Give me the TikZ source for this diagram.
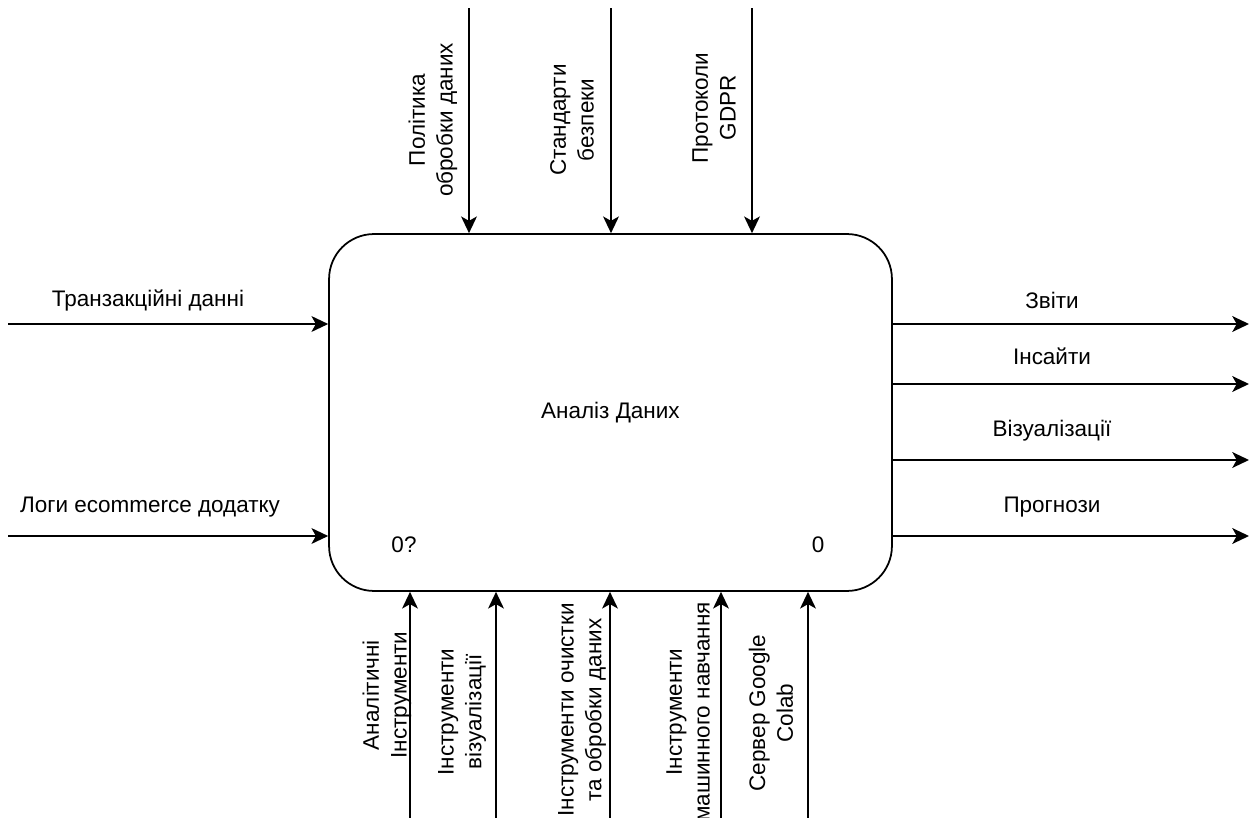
\documentclass[tikz,border=0pt]{standalone}
\usepackage{fontspec}
\setmainfont{Liberation Sans}
\usetikzlibrary{positioning,arrows.meta,calc}
\tikzstyle{flow}=[draw,line width=1pt,-{Stealth[length=9.5pt,width=9pt,inset=2.5pt]}]
\tikzstyle{lbl}=[font=\fontsize{12.8}{15.8}\selectfont,align=center,inner sep=0pt]
\tikzstyle{vlbl}=[lbl,rotate=90]

\begin{document}
\begin{tikzpicture}[x=0.02cm,y=-0.02cm]
  \useasboundingbox (0,0) rectangle (1252,818);
  \node(proc)[draw,line width=1pt,rounded corners=0.9cm,minimum width=11.26cm,
    minimum height=7.14cm,lbl] at (610.5,412.5){Аналіз Даних};
  \node(num)[lbl] at (404,545){0?};
  \node(nodeno)[lbl] at (818,545){0};
  % inputs
  \coordinate(in1) at (8,324);
  \coordinate(in2) at (8,536);
  \path
    (in1) edge[flow] (in1 -| proc.west)
    (in2) edge[flow] (in2 -| proc.west);
  \node(in1lbl)[lbl] at (148,300){Транзакційні данні};
  \node(in2lbl)[lbl] at (150,507){Логи ecommerce додатку};
  % controls
  \coordinate(ctl1) at (469,8);
  \coordinate(ctl2) at (611,8);
  \coordinate(ctl3) at (752,8);
  \path
    (ctl1) edge[flow] (ctl1 |- proc.north)
    (ctl2) edge[flow] (ctl2 |- proc.north)
    (ctl3) edge[flow] (ctl3 |- proc.north);
  \node(ctl1lbl)[vlbl] at (433,120){Політика\\обробки даних};
  \node(ctl2lbl)[vlbl] at (572,120){Стандарти\\безпеки};
  \node(ctl3lbl)[vlbl] at (714,108){Протоколи\\GDPR};
  % outputs
  \coordinate(out1) at (1249,324);
  \coordinate(out2) at (1249,384);
  \coordinate(out3) at (1249,460);
  \coordinate(out4) at (1249,536);
  \path
    (out1 -| proc.east) edge[flow] (out1)
    (out2 -| proc.east) edge[flow] (out2)
    (out3 -| proc.east) edge[flow] (out3)
    (out4 -| proc.east) edge[flow] (out4);
  \node(out1lbl)[lbl] at (1052,300){Звіти};
  \node(out2lbl)[lbl] at (1052,356){Інсайти};
  \node(out3lbl)[lbl] at (1052,431){Візуалізації};
  \node(out4lbl)[lbl] at (1052,507){Прогнози};
  % mechanisms
  \coordinate(mech1) at (410,818);
  \coordinate(mech2) at (496,818);
  \coordinate(mech3) at (610,818);
  \coordinate(mech4) at (721,818);
  \coordinate(mech5) at (808,818);
  \path
    (mech1) edge[flow] (mech1 |- proc.south)
    (mech2) edge[flow] (mech2 |- proc.south)
    (mech3) edge[flow] (mech3 |- proc.south)
    (mech4) edge[flow] (mech4 |- proc.south)
    (mech5) edge[flow] (mech5 |- proc.south);
  \node(mech1lbl)[vlbl] at (387,695){Аналітичні\\Інструменти};
  \node(mech2lbl)[vlbl] at (462,712){Інструменти\\візуалізації};
  \node(mech3lbl)[vlbl] at (582,710){Інструменти очистки\\та обробки даних};
  \node(mech4lbl)[vlbl] at (688,712){Інструменти\\машинного навчання};
  \node(mech5lbl)[vlbl] at (771,713){Сервер Google\\Colab};
\end{tikzpicture}
\end{document}
